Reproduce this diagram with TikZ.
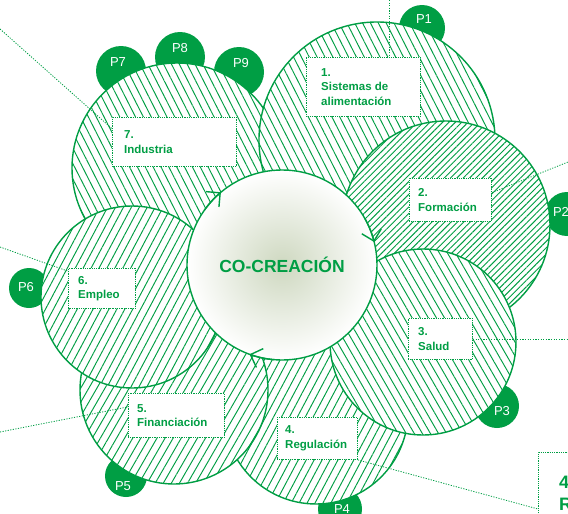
\documentclass[tikz,border=0pt]{standalone}
\usepackage{fontspec}
\setmainfont{Liberation Sans}
\usetikzlibrary{patterns.meta,arrows.meta}
\definecolor{g}{RGB}{0,158,68}
\definecolor{glow}{RGB}{206,216,192}
\begin{document}
\begin{tikzpicture}[x=1pt,y=-1pt,
  badge/.style={circle,fill=g,inner sep=0,minimum size=#1},
  btext/.style={text=white,font=\fontsize{13}{13}\selectfont,inner sep=0},
  hc/.style n args={3}{circle,draw=g,line width=1.4pt,fill=white,inner sep=0,minimum size=#1,
     postaction={pattern={Lines[angle=#2,distance=#3,line width=0.95pt]},pattern color=g}},
  lbox/.style={draw=g,fill=white,line width=0.9pt,dash pattern=on 0.9pt off 0.9pt,inner sep=0,anchor=north west},
  ltext/.style={text=g,align=left,inner sep=0,font=\bfseries\fontsize{11.5}{14.5}\selectfont},
  brtext/.style={text=g,inner sep=0,font=\bfseries\fontsize{18}{22}\selectfont},
  lead/.style={draw=g,line width=0.8pt,dash pattern=on 1.2pt off 1.4pt},
  cyc/.style={draw=g,line width=1.4pt,-{Straight Barb[length=10pt,width=20pt,line width=1.4pt]}}
]
\useasboundingbox (0,0) rectangle (568,514);
% badges
\node[badge=46pt] (p1) at (422,28) {};
\node[badge=44pt] (p2) at (567,214) {};
\node[badge=44pt] (p3) at (497,406) {};
\node[badge=44pt] (p4) at (340,509) {};
\node[badge=42pt] (p5) at (126,476) {};
\node[badge=40pt] (p6) at (29,288) {};
\node[badge=50pt] (p7) at (121,71) {};
\node[badge=50pt] (p8) at (180,57) {};
\node[badge=50pt] (p9) at (239,72) {};
% hatched circles
\node[hc={210pt}{-63}{7pt}] (c7) at (177,168) {};
\node[hc={236pt}{-63}{7pt}] (c1) at (377,140) {};
\node[hc={208pt}{45}{4.5pt}] (c2) at (446,225) {};
\node[hc={184pt}{62}{7pt}] (c4) at (316,412) {};
\node[hc={186pt}{-60}{7pt}] (c3) at (423,342) {};
\node[hc={188pt}{60}{7pt}] (c5) at (174,390) {};
\node[hc={182pt}{62}{7pt}] (c6) at (132,297) {};
% badge texts
\node[btext] (p1t) at (424,19) {P1};
\node[btext] (p2t) at (561,212) {P2};
\node[btext] (p3t) at (502,411) {P3};
\node[btext] (p4t) at (342,509) {P4};
\node[btext] (p5t) at (123,486) {P5};
\node[btext] (p6t) at (26,287) {P6};
\node[btext] (p7t) at (118,62) {P7};
\node[btext] (p8t) at (180,48) {P8};
\node[btext] (p9t) at (241,63) {P9};
% centre
\node[circle,draw=g,line width=1.4pt,inner sep=0,outer sep=0,minimum size=190pt,
      shade,inner color=glow,outer color=white,
      text=g,font=\bfseries\fontsize{17.5}{18}\selectfont] (cc) at (282,265) {CO-CREACIÓN};
\draw[cyc] (cc.145) arc[start angle=145,end angle=130,radius=95pt];
\draw[cyc] (cc.29) arc[start angle=29,end angle=14,radius=95pt];
\draw[cyc] (cc.265) arc[start angle=265,end angle=250,radius=95pt];
% label boxes
\node[lbox,minimum width=124pt,minimum height=49pt] (b7) at (112,117) {};
\node[lbox,minimum width=114pt,minimum height=59pt] (b1) at (306,57) {};
\node[lbox,minimum width=82pt,minimum height=43pt] (b2) at (409,178) {};
\node[lbox,minimum width=64pt,minimum height=41pt] (b3) at (408,318) {};
\node[lbox,minimum width=80pt,minimum height=42pt] (b4) at (277,417) {};
\node[lbox,minimum width=96pt,minimum height=44pt] (b5) at (128,393) {};
\node[lbox,minimum width=67pt,minimum height=40pt] (b6) at (68,268) {};
\node[lbox,minimum width=90pt,minimum height=90pt] (br) at (538,452) {};
% leaders
\coordinate (l7a) at (0,29);
\coordinate (l1a) at (389,0);
\coordinate (l2a) at (568,162);
\coordinate (l3a) at (568,340);
\coordinate (l4b) at (538,509);
\coordinate (l5a) at (0,432);
\coordinate (l6a) at (0,247);
\draw[lead] (l7a) -- (b7.168);
\draw[lead] (l1a) -- (l1a |- b1.north);
\draw[lead] (b2.10) -- (l2a);
\draw[lead] (b3.east) -- (b3.east -| l3a);
\draw[lead] (b4.south east) -- (l4b);
\draw[lead] (l5a) -- (b5.170);
\draw[lead] (l6a) -- (b6.153);
% label texts
\node[ltext,anchor=west] (t7) at ([xshift=12pt]b7.west) {7.\\Industria};
\node[ltext,anchor=west] (t1) at ([xshift=15pt]b1.west) {1.\\Sistemas de\\alimentación};
\node[ltext,anchor=west] (t2) at ([xshift=9pt]b2.west) {2.\\Formación};
\node[ltext,anchor=west] (t3) at ([xshift=10pt]b3.west) {3.\\Salud};
\node[ltext,anchor=west] (t4) at ([xshift=8pt]b4.west) {4.\\Regulación};
\node[ltext,anchor=west] (t5) at ([xshift=9pt]b5.west) {5.\\Financiación};
\node[ltext,anchor=west] (t6) at ([xshift=10pt]b6.west) {6.\\Empleo};
\node[brtext,anchor=base west] (br4) at (559,488) {4};
\node[brtext,anchor=base west] (brR) at (559,510) {R};
\end{tikzpicture}
\end{document}
